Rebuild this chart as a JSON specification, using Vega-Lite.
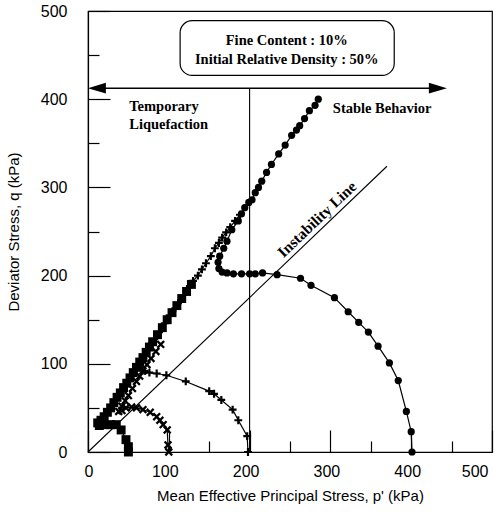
{
  "$schema": "https://vega.github.io/schema/vega-lite/v6.json",
  "width": 404,
  "height": 441,
  "autosize": {"type": "none"},
  "padding": {"left": 88, "top": 11, "right": 4, "bottom": 52},
  "background": "white",
  "config": {
    "view": {"stroke": "black", "strokeWidth": 1.2},
    "axis": {
      "grid": false,
      "domainColor": "black",
      "tickColor": "black",
      "tickWidth": 1.2,
      "domainWidth": 1.2,
      "labelColor": "black",
      "titleColor": "black",
      "labelFont": "Liberation Sans Narrow, Liberation Sans",
      "labelFontSize": 16,
      "titleFont": "Liberation Sans",
      "titleFontSize": 15,
      "titleFontWeight": "normal"
    }
  },
  "datasets": {
    "curves": [
      {"s": "circle", "i": 1, "p": 401, "q": 0},
      {"s": "circle", "i": 2, "p": 400, "q": 23},
      {"s": "circle", "i": 3, "p": 394, "q": 46},
      {"s": "circle", "i": 4, "p": 384, "q": 81},
      {"s": "circle", "i": 5, "p": 373, "q": 101},
      {"s": "circle", "i": 6, "p": 359, "q": 120},
      {"s": "circle", "i": 7, "p": 347, "q": 136},
      {"s": "circle", "i": 8, "p": 335, "q": 147},
      {"s": "circle", "i": 9, "p": 322, "q": 159},
      {"s": "circle", "i": 10, "p": 305, "q": 175},
      {"s": "circle", "i": 11, "p": 276, "q": 189},
      {"s": "circle", "i": 12, "p": 263, "q": 197},
      {"s": "circle", "i": 13, "p": 234, "q": 201},
      {"s": "circle", "i": 14, "p": 216, "q": 203},
      {"s": "circle", "i": 15, "p": 207, "q": 202},
      {"s": "circle", "i": 16, "p": 200, "q": 202},
      {"s": "circle", "i": 17, "p": 190, "q": 202},
      {"s": "circle", "i": 18, "p": 180, "q": 202},
      {"s": "circle", "i": 19, "p": 172, "q": 203},
      {"s": "circle", "i": 20, "p": 166, "q": 204},
      {"s": "circle", "i": 21, "p": 162, "q": 208},
      {"s": "circle", "i": 22, "p": 161, "q": 215},
      {"s": "circle", "i": 23, "p": 163, "q": 222},
      {"s": "circle", "i": 24, "p": 168, "q": 231},
      {"s": "circle", "i": 25, "p": 172, "q": 239},
      {"s": "circle", "i": 26, "p": 178, "q": 252},
      {"s": "circle", "i": 27, "p": 186, "q": 262},
      {"s": "circle", "i": 28, "p": 190, "q": 270},
      {"s": "circle", "i": 29, "p": 194, "q": 277},
      {"s": "circle", "i": 30, "p": 199, "q": 283},
      {"s": "circle", "i": 31, "p": 203, "q": 286},
      {"s": "circle", "i": 32, "p": 207, "q": 294},
      {"s": "circle", "i": 33, "p": 211, "q": 300},
      {"s": "circle", "i": 34, "p": 215, "q": 307},
      {"s": "circle", "i": 35, "p": 221, "q": 317},
      {"s": "circle", "i": 36, "p": 227, "q": 326},
      {"s": "circle", "i": 37, "p": 236, "q": 338},
      {"s": "circle", "i": 38, "p": 244, "q": 348},
      {"s": "circle", "i": 39, "p": 252, "q": 359},
      {"s": "circle", "i": 40, "p": 258, "q": 365},
      {"s": "circle", "i": 41, "p": 262, "q": 370},
      {"s": "circle", "i": 42, "p": 268, "q": 378},
      {"s": "circle", "i": 43, "p": 274, "q": 387},
      {"s": "circle", "i": 44, "p": 281, "q": 393},
      {"s": "circle", "i": 45, "p": 285, "q": 400},
      {"s": "plus", "i": 1, "p": 198, "q": 0},
      {"s": "plus", "i": 2, "p": 197, "q": 18},
      {"s": "plus", "i": 3, "p": 186, "q": 36},
      {"s": "plus", "i": 4, "p": 179, "q": 48},
      {"s": "plus", "i": 5, "p": 165, "q": 59},
      {"s": "plus", "i": 6, "p": 156, "q": 66},
      {"s": "plus", "i": 7, "p": 150, "q": 69},
      {"s": "plus", "i": 8, "p": 121, "q": 80},
      {"s": "plus", "i": 9, "p": 97, "q": 87},
      {"s": "plus", "i": 10, "p": 85, "q": 89},
      {"s": "plus", "i": 11, "p": 76, "q": 90},
      {"s": "plus", "i": 12, "p": 70, "q": 92},
      {"s": "plus", "i": 13, "p": 66, "q": 96},
      {"s": "plus", "i": 14, "p": 70, "q": 110},
      {"s": "plus", "i": 15, "p": 76, "q": 120},
      {"s": "plus", "i": 16, "p": 82, "q": 128},
      {"s": "plus", "i": 17, "p": 88, "q": 136},
      {"s": "plus", "i": 18, "p": 95, "q": 146},
      {"s": "plus", "i": 19, "p": 101, "q": 155},
      {"s": "plus", "i": 20, "p": 108, "q": 163},
      {"s": "plus", "i": 21, "p": 115, "q": 172},
      {"s": "plus", "i": 22, "p": 122, "q": 182},
      {"s": "plus", "i": 23, "p": 126, "q": 188},
      {"s": "plus", "i": 24, "p": 130, "q": 194},
      {"s": "plus", "i": 25, "p": 136, "q": 200},
      {"s": "plus", "i": 26, "p": 141, "q": 207},
      {"s": "plus", "i": 27, "p": 146, "q": 214},
      {"s": "plus", "i": 28, "p": 152, "q": 222},
      {"s": "plus", "i": 29, "p": 157, "q": 231},
      {"s": "plus", "i": 30, "p": 162, "q": 237},
      {"s": "plus", "i": 31, "p": 166, "q": 243},
      {"s": "plus", "i": 32, "p": 171, "q": 249},
      {"s": "plus", "i": 33, "p": 176, "q": 255},
      {"s": "plus", "i": 34, "p": 182, "q": 262},
      {"s": "plus", "i": 35, "p": 188, "q": 269},
      {"s": "x", "i": 1, "p": 100, "q": 0},
      {"s": "x", "i": 2, "p": 99, "q": 8},
      {"s": "x", "i": 3, "p": 98, "q": 25},
      {"s": "x", "i": 4, "p": 93, "q": 31},
      {"s": "x", "i": 5, "p": 89, "q": 36},
      {"s": "x", "i": 6, "p": 85, "q": 40},
      {"s": "x", "i": 7, "p": 77, "q": 45},
      {"s": "x", "i": 8, "p": 68, "q": 48},
      {"s": "x", "i": 9, "p": 60, "q": 50},
      {"s": "x", "i": 10, "p": 54, "q": 51},
      {"s": "x", "i": 11, "p": 47, "q": 50},
      {"s": "x", "i": 12, "p": 42, "q": 47},
      {"s": "x", "i": 13, "p": 38, "q": 46},
      {"s": "x", "i": 14, "p": 42, "q": 52},
      {"s": "x", "i": 15, "p": 46, "q": 58},
      {"s": "x", "i": 16, "p": 50, "q": 64},
      {"s": "x", "i": 17, "p": 55, "q": 72},
      {"s": "x", "i": 18, "p": 60, "q": 80},
      {"s": "x", "i": 19, "p": 64, "q": 86},
      {"s": "x", "i": 20, "p": 68, "q": 92},
      {"s": "x", "i": 21, "p": 73, "q": 99},
      {"s": "x", "i": 22, "p": 78, "q": 106},
      {"s": "x", "i": 23, "p": 84, "q": 114},
      {"s": "x", "i": 24, "p": 90, "q": 122},
      {"s": "square", "i": 1, "p": 50, "q": 0},
      {"s": "square", "i": 2, "p": 50, "q": 6},
      {"s": "square", "i": 3, "p": 47, "q": 14},
      {"s": "square", "i": 4, "p": 41, "q": 25},
      {"s": "square", "i": 5, "p": 35, "q": 31},
      {"s": "square", "i": 6, "p": 28, "q": 31},
      {"s": "square", "i": 7, "p": 20, "q": 31},
      {"s": "square", "i": 8, "p": 14, "q": 30},
      {"s": "square", "i": 9, "p": 12, "q": 33},
      {"s": "square", "i": 10, "p": 16, "q": 36},
      {"s": "square", "i": 11, "p": 20, "q": 40},
      {"s": "square", "i": 12, "p": 24, "q": 45},
      {"s": "square", "i": 13, "p": 28, "q": 50},
      {"s": "square", "i": 14, "p": 32, "q": 56},
      {"s": "square", "i": 15, "p": 36, "q": 62},
      {"s": "square", "i": 16, "p": 40, "q": 67},
      {"s": "square", "i": 17, "p": 44, "q": 73},
      {"s": "square", "i": 18, "p": 48, "q": 78},
      {"s": "square", "i": 19, "p": 52, "q": 84},
      {"s": "square", "i": 20, "p": 56, "q": 90},
      {"s": "square", "i": 21, "p": 60, "q": 96},
      {"s": "square", "i": 22, "p": 64, "q": 102},
      {"s": "square", "i": 23, "p": 68, "q": 107},
      {"s": "square", "i": 24, "p": 72, "q": 113},
      {"s": "square", "i": 25, "p": 76, "q": 119},
      {"s": "square", "i": 26, "p": 80, "q": 125},
      {"s": "square", "i": 27, "p": 86, "q": 133},
      {"s": "square", "i": 28, "p": 92, "q": 141},
      {"s": "square", "i": 29, "p": 98, "q": 150},
      {"s": "square", "i": 30, "p": 104, "q": 158},
      {"s": "square", "i": 31, "p": 110, "q": 166},
      {"s": "square", "i": 32, "p": 116, "q": 174},
      {"s": "square", "i": 33, "p": 122, "q": 182},
      {"s": "square", "i": 34, "p": 128, "q": 190}
    ]
  },
  "layer": [
    {
      "data": {"name": "curves"},
      "mark": {"type": "line", "color": "black", "strokeWidth": 1.2},
      "encoding": {
        "x": {
          "field": "p",
          "type": "quantitative",
          "scale": {"domain": [0, 500], "nice": false},
          "axis": {
            "title": "Mean Effective Principal Stress, p' (kPa)",
            "values": [0, 50, 100, 150, 200, 250, 300, 350, 400, 450, 500],
            "labelExpr": "datum.value % 100 === 0 ? datum.label : ''",
            "tickSize": {"condition": {"test": "datum.value % 100 === 0", "value": -22}, "value": -11},
            "labelPadding": 33,
            "labelOffset": -4,
            "titlePadding": 9
          }
        },
        "y": {
          "field": "q",
          "type": "quantitative",
          "scale": {"domain": [0, 500], "nice": false},
          "axis": {
            "title": "Deviator Stress, q (kPa)",
            "values": [0, 50, 100, 150, 200, 250, 300, 350, 400, 450, 500],
            "labelExpr": "datum.value % 100 === 0 ? datum.label : ''",
            "tickSize": {"condition": {"test": "datum.value % 100 === 0", "value": -22}, "value": -11},
            "labelPadding": 43,
            "titlePadding": 19
          }
        },
        "detail": {"field": "s"},
        "order": {"field": "i", "type": "quantitative"}
      }
    },
    {
      "data": {"name": "curves"},
      "mark": {"type": "point", "filled": true, "color": "black", "opacity": 1},
      "encoding": {
        "x": {"field": "p", "type": "quantitative"},
        "y": {"field": "q", "type": "quantitative"},
        "shape": {
          "field": "s",
          "type": "nominal",
          "legend": null,
          "scale": {
            "domain": ["circle", "plus", "x", "square"],
            "range": [
              "circle",
              "M-1,-0.28L-0.28,-0.28L-0.28,-1L0.28,-1L0.28,-0.28L1,-0.28L1,0.28L0.28,0.28L0.28,1L-0.28,1L-0.28,0.28L-1,0.28Z",
              "M0,-0.38L0.62,-1L1,-0.62L0.38,0L1,0.62L0.62,1L0,0.38L-0.62,1L-1,0.62L-0.38,0L-1,-0.62L-0.62,-1Z",
              "square"
            ]
          }
        },
        "size": {
          "field": "s",
          "type": "nominal",
          "legend": null,
          "scale": {"domain": ["circle", "plus", "x", "square"], "range": [52, 80, 68, 56]}
        }
      }
    },
    {
      "data": {"values": [{}]},
      "mark": {"type": "rule", "color": "black", "strokeWidth": 1.1},
      "encoding": {
        "x": {"datum": 0},
        "y": {"datum": 0},
        "x2": {"datum": 370},
        "y2": {"datum": 324}
      }
    },
    {
      "data": {"values": [{}]},
      "mark": {"type": "rule", "color": "black", "strokeWidth": 1.1},
      "encoding": {
        "x": {"datum": 200},
        "y": {"datum": 0},
        "y2": {"datum": 412.5}
      }
    },
    {
      "data": {"values": [{}]},
      "mark": {"type": "rule", "color": "black", "strokeWidth": 1.4},
      "encoding": {
        "x": {"datum": 8},
        "x2": {"datum": 428},
        "y": {"datum": 412.5}
      }
    },
    {
      "data": {"values": [{}]},
      "mark": {"type": "point", "filled": true, "color": "black", "opacity": 1, "size": 324, "shape": "M-1,0L1,-0.6L1,0.6Z"},
      "encoding": {
        "x": {"datum": 11},
        "y": {"datum": 412.5}
      }
    },
    {
      "data": {"values": [{}]},
      "mark": {"type": "point", "filled": true, "color": "black", "opacity": 1, "size": 324, "shape": "M1,0L-1,-0.6L-1,0.6Z"},
      "encoding": {
        "x": {"datum": 433},
        "y": {"datum": 412.5}
      }
    },
    {
      "data": {"values": [{}]},
      "mark": {"type": "rect", "fill": "white", "stroke": "black", "strokeWidth": 1.2, "cornerRadius": 12},
      "encoding": {
        "x": {"datum": 114},
        "x2": {"datum": 379},
        "y": {"datum": 489},
        "y2": {"datum": 427}
      }
    },
    {
      "data": {"values": [{}]},
      "mark": {"type": "text", "font": "Liberation Serif", "fontWeight": "bold", "fontSize": 14.5, "align": "center", "baseline": "middle", "color": "black"},
      "encoding": {
        "x": {"datum": 246},
        "y": {"datum": 466},
        "text": {"value": "Fine Content : 10%"}
      }
    },
    {
      "data": {"values": [{}]},
      "mark": {"type": "text", "font": "Liberation Serif", "fontWeight": "bold", "fontSize": 14.5, "align": "center", "baseline": "middle", "color": "black"},
      "encoding": {
        "x": {"datum": 246},
        "y": {"datum": 445},
        "text": {"value": "Initial Relative Density : 50%"}
      }
    },
    {
      "data": {"values": [{}]},
      "mark": {"type": "text", "font": "Liberation Serif", "fontWeight": "bold", "fontSize": 14.5, "align": "left", "baseline": "middle", "color": "black", "lineHeight": 18},
      "encoding": {
        "x": {"datum": 51},
        "y": {"datum": 391},
        "text": {"value": ["Temporary", "Liquefaction"]}
      }
    },
    {
      "data": {"values": [{}]},
      "mark": {"type": "text", "font": "Liberation Serif", "fontWeight": "bold", "fontSize": 14.5, "align": "left", "baseline": "middle", "color": "black"},
      "encoding": {
        "x": {"datum": 303},
        "y": {"datum": 389},
        "text": {"value": "Stable Behavior"}
      }
    },
    {
      "data": {"values": [{}]},
      "mark": {"type": "text", "font": "Liberation Serif", "fontWeight": "bold", "fontSize": 15.5, "align": "center", "baseline": "alphabetic", "color": "black", "angle": -43.6, "dy": -5},
      "encoding": {
        "x": {"datum": 292},
        "y": {"datum": 255.5},
        "text": {"value": "Instability Line"}
      }
    }
  ]
}
